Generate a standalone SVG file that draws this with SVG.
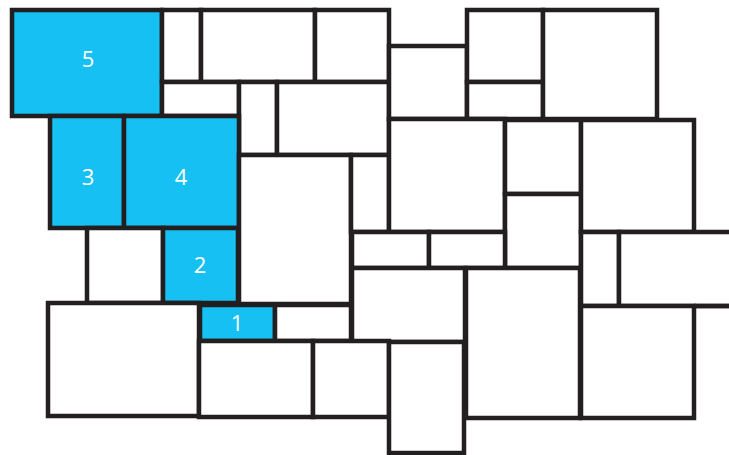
<svg xmlns="http://www.w3.org/2000/svg" width="729" height="455" viewBox="0 0 729 455">
<style>
.b{fill:#ffffff;stroke:#231f20;stroke-width:4.5;stroke-linejoin:miter}
.h{fill:#16c0f2}
.l{fill:none;stroke:#231f20;stroke-width:4.5}
.t{font-family:"Open Sans","Noto Sans",sans-serif;font-size:22px;fill:#ffffff;text-anchor:middle}
</style>
<rect width="729" height="455" fill="#ffffff"/>
<g id="nodes">
<g id="n5"><rect class="b h" x="12" y="10" width="150" height="106"/><text class="t" x="88" y="67">5</text></g>
<g id="a"><rect class="b" x="162" y="10" width="39" height="72"/></g>
<g id="b"><rect class="b" x="201" y="10" width="114" height="72"/></g>
<g id="c"><rect class="b" x="315" y="10" width="74" height="72"/></g>
<g id="d"><rect class="b" x="162" y="82" width="77" height="34"/></g>
<g id="e"><rect class="b" x="239" y="82" width="38" height="73"/></g>
<g id="f"><rect class="b" x="277" y="82" width="112" height="73"/></g>
<g id="g"><rect class="b" x="389" y="46" width="78" height="73"/></g>
<g id="h"><rect class="b" x="467" y="10" width="76" height="72"/></g>
<g id="i"><rect class="b" x="467" y="82" width="76" height="37"/></g>
<g id="j"><rect class="b" x="543" y="10" width="114" height="109"/></g>
<g id="n3"><rect class="b h" x="50" y="116" width="74" height="112"/><text class="t" x="88" y="185">3</text></g>
<g id="n4"><rect class="b h" x="124" y="116" width="115" height="112"/><text class="t" x="181" y="185">4</text></g>
<g id="k"><rect class="b" x="239" y="155" width="112" height="149"/></g>
<g id="l"><rect class="b" x="351" y="155" width="38" height="77"/></g>
<g id="m"><rect class="b" x="389" y="119" width="116" height="113"/></g>
<g id="n"><rect class="b" x="505" y="120" width="76" height="74"/></g>
<g id="o"><rect class="b" x="505" y="194" width="76" height="74"/></g>
<g id="p"><rect class="b" x="581" y="120" width="113" height="112"/></g>
<g id="q"><rect class="b" x="352" y="232" width="77" height="36"/></g>
<g id="r"><rect class="b" x="429" y="232" width="76" height="36"/></g>
<g id="s"><rect class="b" x="87" y="228" width="76" height="75"/></g>
<g id="n2"><rect class="b h" x="163" y="228" width="75" height="75"/><text class="t" x="200" y="273">2</text></g>
<g id="t"><rect class="b" x="48" y="303" width="151" height="113"/></g>
<g id="n1"><rect class="b h" x="200" y="305" width="75" height="36"/><text class="t" x="237" y="331">1</text></g>
<g id="u"><rect class="b" x="275" y="305" width="76" height="36"/></g>
<g id="v"><rect class="b" x="352" y="268" width="113" height="74"/></g>
<g id="w"><rect class="b" x="466" y="268" width="114" height="150"/></g>
<g id="x"><rect class="b" x="199" y="341" width="114" height="76"/></g>
<g id="y"><rect class="b" x="313" y="341" width="76" height="76"/></g>
<g id="z"><rect class="b" x="389" y="342" width="75" height="111"/></g>
<g id="aa"><rect class="b" x="581" y="232" width="38" height="74"/></g>
<g id="ab"><rect class="b" x="619" y="232" width="130" height="74"/></g>
<g id="ac"><rect class="b" x="581" y="306" width="113" height="112"/></g>
</g>
<g id="connectors">
<line class="l" x1="694" y1="306" x2="735" y2="306"/>
</g>
</svg>
